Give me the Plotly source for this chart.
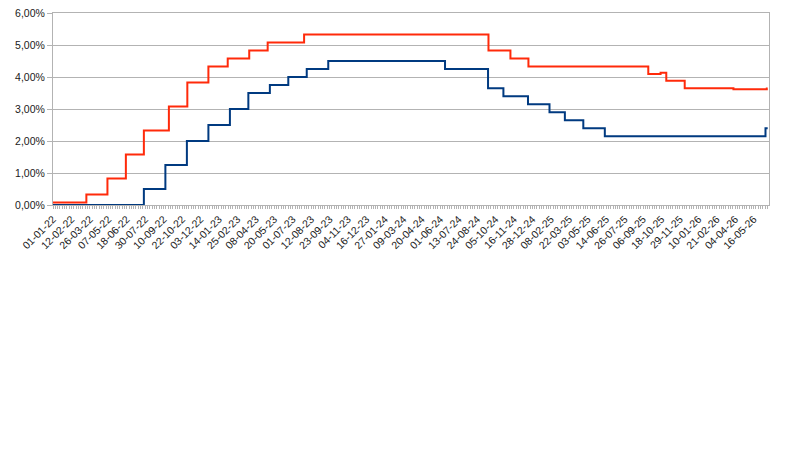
import plotly.graph_objects as go

# Red series: change dates and rate levels (%)
red_dates = ["2022-01-01", "2022-03-18", "2022-05-05", "2022-06-16", "2022-07-27",
             "2022-09-22", "2022-11-03", "2022-12-21", "2023-02-03", "2023-03-24",
             "2023-05-05", "2023-07-27", "2024-09-19", "2024-11-08", "2024-12-19",
             "2025-09-18", "2025-10-16", "2025-10-29", "2025-12-10", "2026-03-31",
             "2026-06-15", "2026-06-17"]
red_vals = [0.08, 0.33, 0.83, 1.58, 2.33,
            3.08, 3.83, 4.33, 4.58, 4.83,
            5.08, 5.33, 4.83, 4.58, 4.33,
            4.09, 4.13, 3.88, 3.65, 3.62,
            3.64, 3.64]

# Blue series: change dates and rate levels (%)
blue_dates = ["2022-01-01", "2022-07-27", "2022-09-14", "2022-11-02", "2022-12-21",
              "2023-02-08", "2023-03-22", "2023-05-10", "2023-06-21", "2023-08-02",
              "2023-09-20", "2024-06-12", "2024-09-18", "2024-10-23", "2024-12-18",
              "2025-02-05", "2025-03-12", "2025-04-23", "2025-06-11", "2026-06-12",
              "2026-06-17"]
blue_vals = [0.00, 0.50, 1.25, 2.00, 2.50,
             3.00, 3.50, 3.75, 4.00, 4.25,
             4.50, 4.25, 3.65, 3.40, 3.15,
             2.90, 2.65, 2.40, 2.15, 2.40,
             2.40]

# X tick labels (every 42 days)
tick_dates = ["2022-01-01", "2022-02-12", "2022-03-26", "2022-05-07", "2022-06-18",
              "2022-07-30", "2022-09-10", "2022-10-22", "2022-12-03", "2023-01-14",
              "2023-02-25", "2023-04-08", "2023-05-20", "2023-07-01", "2023-08-12",
              "2023-09-23", "2023-11-04", "2023-12-16", "2024-01-27", "2024-03-09",
              "2024-04-20", "2024-06-01", "2024-07-13", "2024-08-24", "2024-10-05",
              "2024-11-16", "2024-12-28", "2025-02-08", "2025-03-22", "2025-05-03",
              "2025-06-14", "2025-07-26", "2025-09-06", "2025-10-18", "2025-11-29",
              "2026-01-10", "2026-02-21", "2026-04-04", "2026-05-16"]
tick_labels = ["01-01-22", "12-02-22", "26-03-22", "07-05-22", "18-06-22",
               "30-07-22", "10-09-22", "22-10-22", "03-12-22", "14-01-23",
               "25-02-23", "08-04-23", "20-05-23", "01-07-23", "12-08-23",
               "23-09-23", "04-11-23", "16-12-23", "27-01-24", "09-03-24",
               "20-04-24", "01-06-24", "13-07-24", "24-08-24", "05-10-24",
               "16-11-24", "28-12-24", "08-02-25", "22-03-25", "03-05-25",
               "14-06-25", "26-07-25", "06-09-25", "18-10-25", "29-11-25",
               "10-01-26", "21-02-26", "04-04-26", "16-05-26"]

y_ticks = [0, 1, 2, 3, 4, 5, 6]
y_tick_labels = ["0,00%", "1,00%", "2,00%", "3,00%", "4,00%", "5,00%", "6,00%"]

FONT = "Liberation Sans, Arial, sans-serif"
GRID = "#b3b3b3"

fig = go.Figure()
fig.add_trace(go.Scatter(x=blue_dates, y=blue_vals, mode="lines", line_shape="hv",
                         line=dict(color="#003a80", width=2), showlegend=False,
                         name="blue"))
fig.add_trace(go.Scatter(x=red_dates, y=red_vals, mode="lines", line_shape="hv",
                         line=dict(color="#ff2a0a", width=2), showlegend=False,
                         name="red"))

fig.update_layout(
    width=800, height=450,
    margin=dict(l=45, r=39, t=5, b=253),
    paper_bgcolor="white", plot_bgcolor="white",
    font=dict(family=FONT, size=10.5, color="#1a1a1a"),
    showlegend=False,
)
fig.update_xaxes(
    type="date", automargin=False,
    range=["2022-01-01", "2026-06-20"],
    tickmode="array", tickvals=tick_dates, ticktext=tick_labels,
    tickangle=-45,
    ticks="outside", ticklen=3, tickcolor=GRID,
    minor=dict(ticks="outside", ticklen=3, tickcolor=GRID,
               dtick=453600000, tick0="2022-01-01", showgrid=False),
    showgrid=False, zeroline=False,
    showline=True, linecolor=GRID, linewidth=1, mirror=True,
    ticklabeloverflow="allow",
    tickfont=dict(family=FONT, size=10.5, color="#1a1a1a"),
)
fig.update_yaxes(
    automargin=False,
    range=[0, 6],
    tickmode="array", tickvals=y_ticks, ticktext=y_tick_labels,
    ticks="outside", ticklen=5, tickcolor=GRID,
    showgrid=True, gridcolor=GRID, gridwidth=1,
    zeroline=False,
    showline=True, linecolor=GRID, linewidth=1, mirror=True,
    ticklabeloverflow="allow",
    tickfont=dict(family=FONT, size=10.5, color="#1a1a1a"),
)

fig.write_html("out.html")
